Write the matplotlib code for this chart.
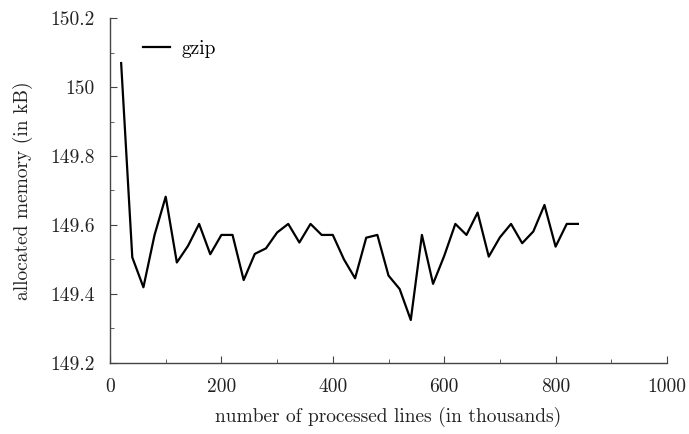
import matplotlib
matplotlib.use("Agg")
import matplotlib.pyplot as plt
from matplotlib.ticker import MultipleLocator, FuncFormatter

plt.rcParams['font.family'] = 'serif'
plt.rcParams['font.serif'] = ['cmr10']
plt.rcParams['mathtext.fontset'] = 'cm'
plt.rcParams['axes.formatter.use_mathtext'] = True

lines_k = [20, 40, 60, 80, 100, 120, 140, 160, 180, 200, 220, 240, 260, 280, 300,
           320, 340, 360, 380, 400, 420, 440, 460, 480, 500, 520, 540, 560, 580, 600,
           620, 640, 660, 680, 700, 720, 740, 760, 780, 800, 820, 840]
memory_kb = [150.07, 149.506, 149.419, 149.571, 149.682, 149.491, 149.539, 149.603,
             149.515, 149.571, 149.571, 149.44, 149.516, 149.532, 149.578, 149.603,
             149.549, 149.603, 149.571, 149.571, 149.5, 149.445, 149.563, 149.571,
             149.453, 149.414, 149.324, 149.571, 149.429, 149.51, 149.603, 149.571,
             149.636, 149.508, 149.564, 149.603, 149.547, 149.581, 149.658, 149.537,
             149.603, 149.603]

fig = plt.figure(figsize=(6.89, 4.34), dpi=100)
ax = fig.add_axes([110/689, 1 - 362.7/434, (667 - 110)/689, (362.7 - 18.3)/434])
ax.plot(lines_k, memory_kb, color='black', lw=1.6, label='gzip')
ax.set_xlim(0, 1000)
ax.set_ylim(149.2, 150.2)
ax.xaxis.set_major_locator(MultipleLocator(200))
ax.xaxis.set_minor_locator(MultipleLocator(100))
ax.yaxis.set_major_locator(MultipleLocator(0.2))
ax.yaxis.set_minor_locator(MultipleLocator(0.1))
ax.yaxis.set_major_formatter(FuncFormatter(lambda v, p: ('%g' % round(v, 1))))
ax.xaxis.set_major_formatter(FuncFormatter(lambda v, p: ('%d' % round(v))))
for s in ['top', 'right']:
    ax.spines[s].set_visible(False)
for s in ['left', 'bottom']:
    ax.spines[s].set_color('#444444')
    ax.spines[s].set_linewidth(1.0)
ax.tick_params(which='both', direction='in', colors='#444444', labelcolor='#222222', labelsize=14)
ax.tick_params(which='major', length=5, pad=11)
ax.tick_params(which='minor', length=3)
ax.set_xlabel('number of processed lines (in thousands)', fontsize=14, color='#222222', labelpad=8)
ax.set_ylabel('allocated memory (in kB)', fontsize=14, color='#222222', labelpad=12)
ax.legend(loc='upper left', frameon=False, fontsize=14, handlelength=1.4, handletextpad=0.6,
          bbox_to_anchor=(0.045, 0.96), borderaxespad=0)
fig.savefig('out.png', dpi=100)
